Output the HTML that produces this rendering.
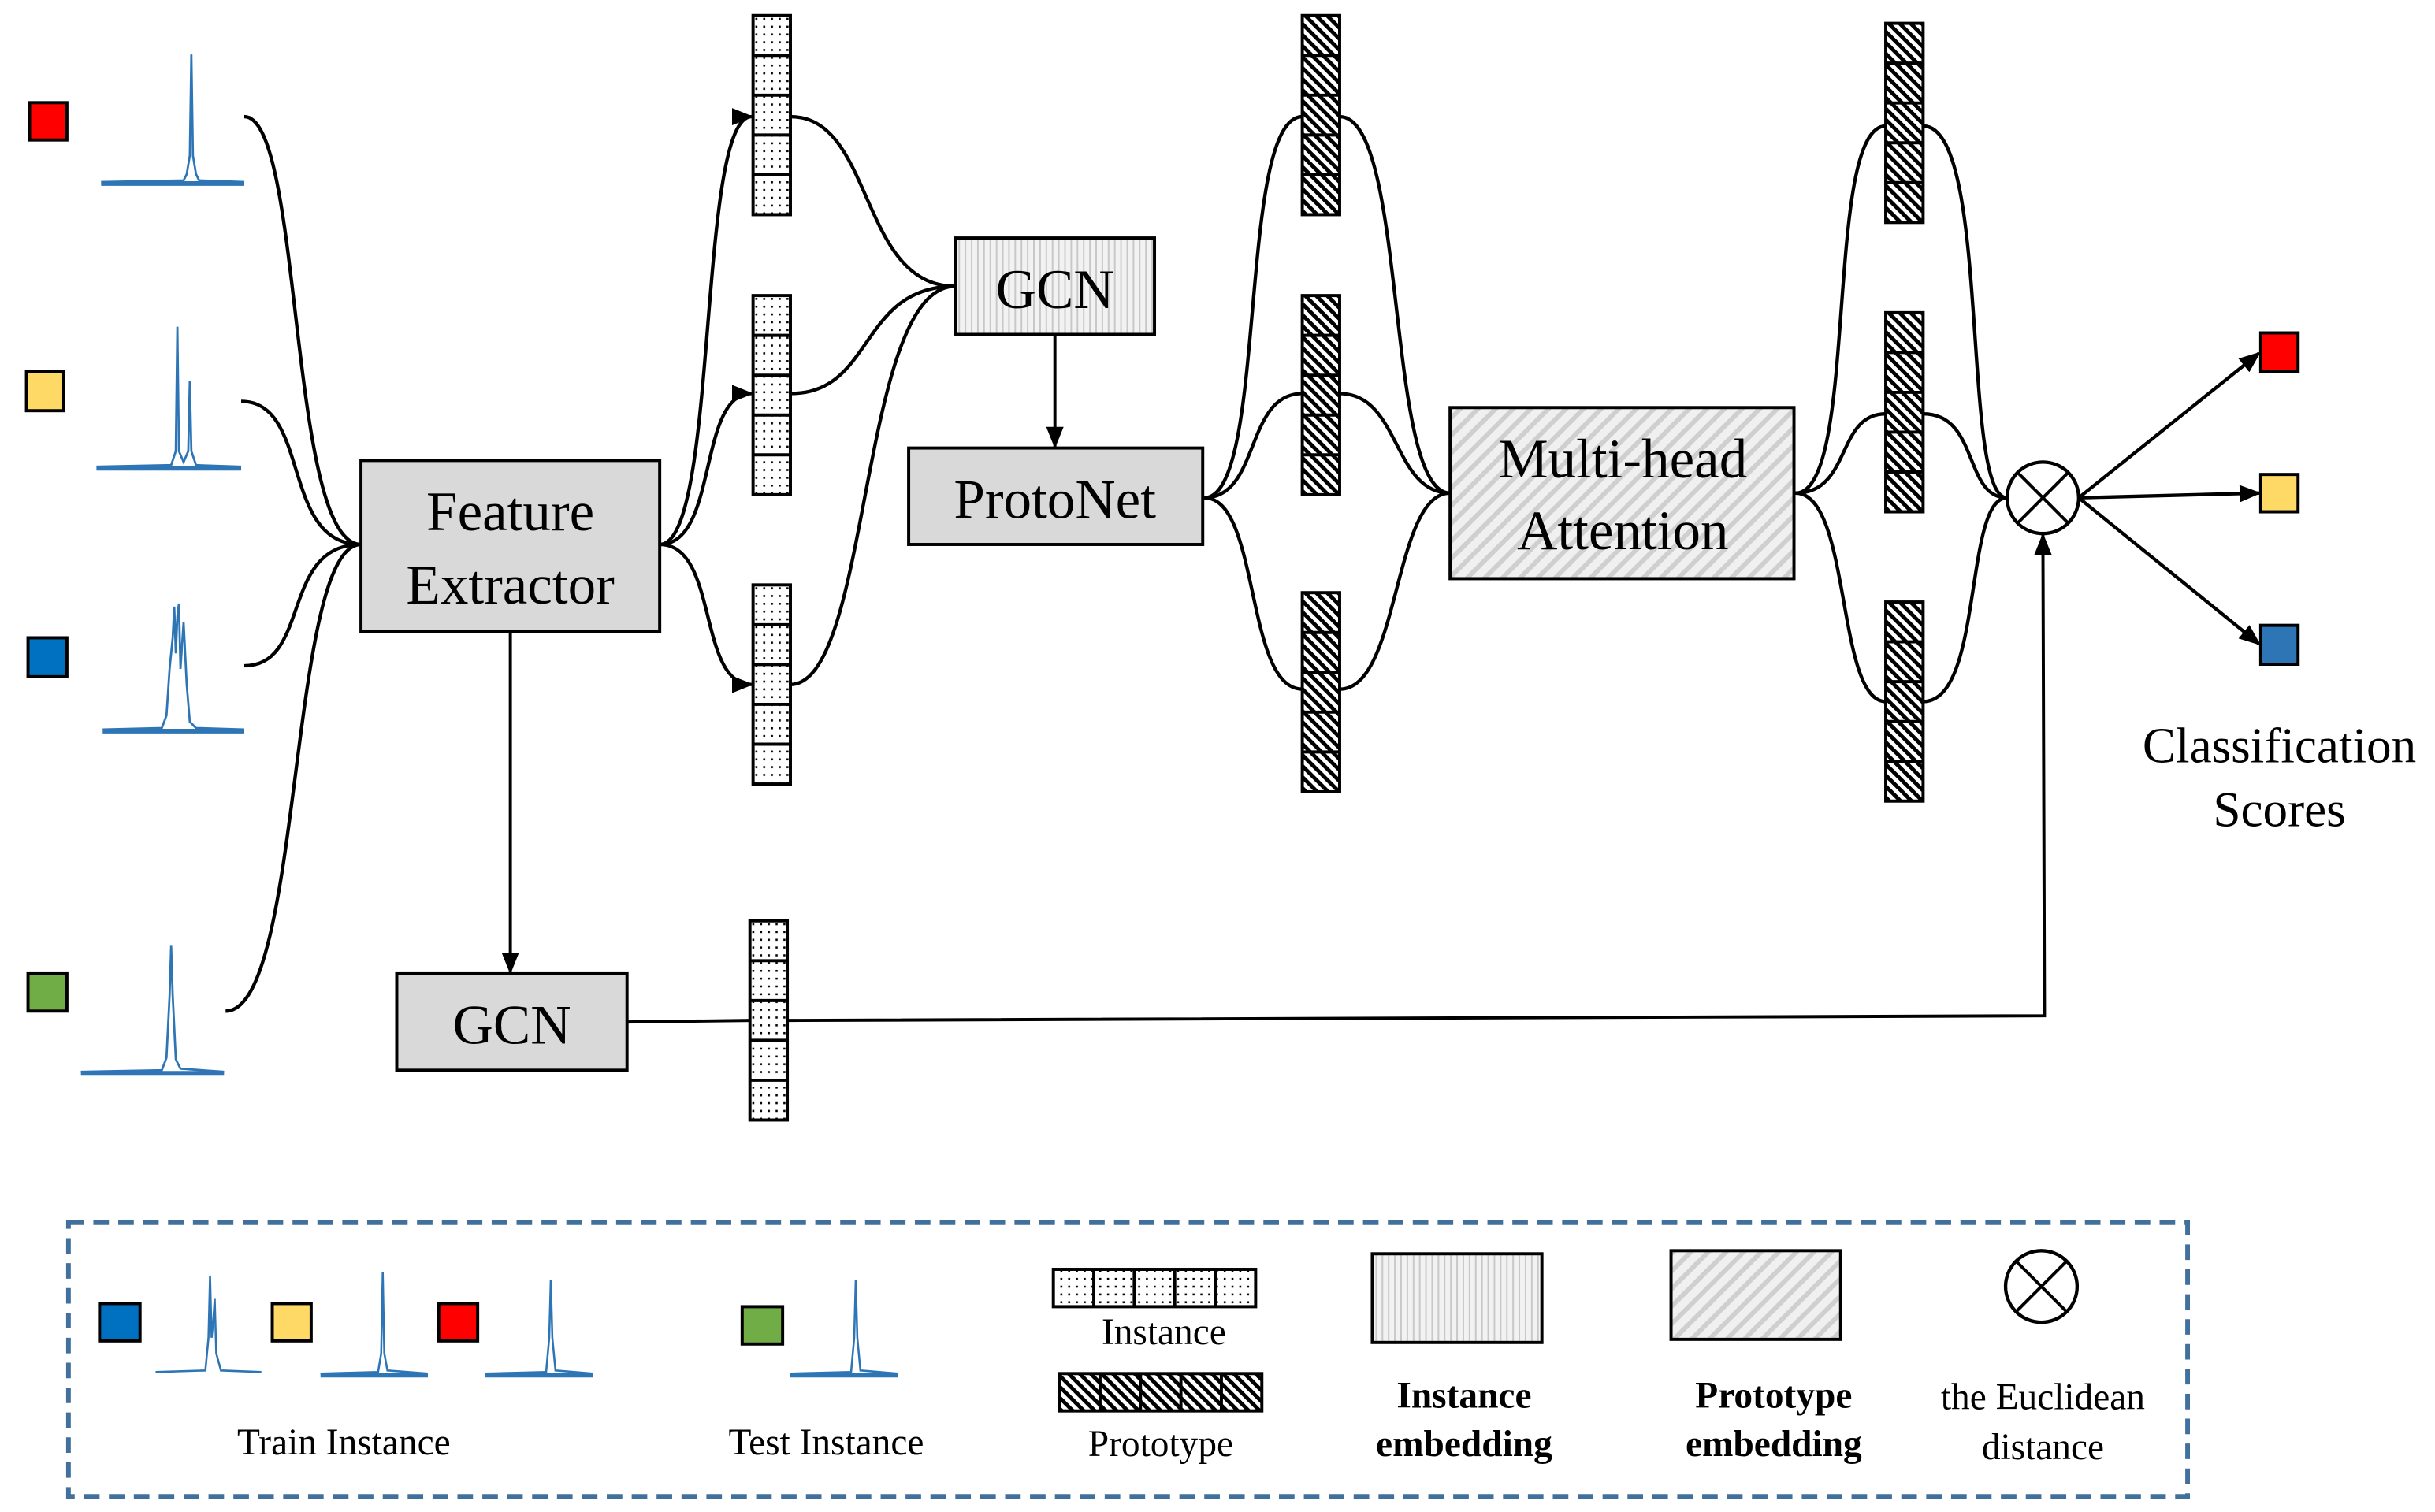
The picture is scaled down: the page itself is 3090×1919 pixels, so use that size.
<!DOCTYPE html>
<html><head><meta charset="utf-8"><style>
html,body{margin:0;padding:0;background:#fff;}
svg{display:block;}
text{font-family:"Liberation Serif","Times New Roman",Times,serif;}
</style></head><body>
<svg width="3090" height="1919" viewBox="0 0 1565 972" preserveAspectRatio="none" xmlns="http://www.w3.org/2000/svg">
<defs>
<pattern id="dots" width="5" height="5" patternUnits="userSpaceOnUse"><rect width="5" height="5" fill="#fff"/><rect x="1.5" y="1.5" width="1.3" height="1.3" fill="#000"/></pattern>
<pattern id="hatch" width="5" height="5" patternUnits="userSpaceOnUse" patternTransform="rotate(-45)"><rect width="5" height="5" fill="#fff"/><rect width="2.5" height="5" fill="#000"/></pattern>
<pattern id="vlines" width="4" height="10" patternUnits="userSpaceOnUse"><rect width="4" height="10" fill="#f2f2f2"/><rect width="1" height="10" fill="#c8c8c8"/></pattern>
<pattern id="diag" width="8" height="8" patternUnits="userSpaceOnUse" patternTransform="rotate(45)"><rect width="8" height="8" fill="#f0f0f0"/><rect width="3" height="8" fill="#cfcfcf"/></pattern>
<marker id="ar2" viewBox="0 0 10 10" refX="9" refY="5" markerWidth="14" markerHeight="14" markerUnits="userSpaceOnUse" orient="auto"><path d="M0,1 L10,5 L0,9 z" fill="#000"/></marker>
</defs>

<!-- input squares -->
<rect x="19" y="66" width="24" height="24" fill="#ff0000" stroke="#000" stroke-width="2"/>
<rect x="17" y="239" width="24" height="25" fill="#ffd966" stroke="#000" stroke-width="2"/>
<rect x="18" y="410" width="25" height="25" fill="#0070c0" stroke="#000" stroke-width="2"/>
<rect x="18" y="626" width="25" height="24" fill="#70ad47" stroke="#000" stroke-width="2"/>

<!-- spectra -->
<g stroke="#2e75b6" fill="none" stroke-width="1.4">
<path d="M65,117 L118,116 L120,112 L122,100 L123,35 L124,100 L126,112 L128,116 L157,117"/>
<path d="M62,300 L110,299 L113,290 L114,210 L115,290 L118,297 L121,290 L122,245 L123,290 L126,299 L155,300"/>
<path d="M66,469 L104,468 L107,460 L109,430 L111,410 L112,390 L113,420 L114,396 L115,388 L116,430 L118,400 L120,440 L122,464 L126,468 L157,469"/>
<path d="M52,689 L104,688 L107,680 L109,640 L110,608 L111,640 L113,681 L116,687 L144,689"/>
</g>
<g stroke="#2e75b6" stroke-width="3">
<line x1="65" y1="118" x2="157" y2="118"/>
<line x1="62" y1="301" x2="155" y2="301"/>
<line x1="66" y1="470" x2="157" y2="470"/>
<line x1="52" y1="690" x2="144" y2="690"/>
</g>

<!-- spectrum to FE curves -->
<g stroke="#000" fill="none" stroke-width="2.2">
<path d="M157,75 C195,75 185,350 232,350"/>
<path d="M155,258 C200,258 180,350 232,350"/>
<path d="M157,428 C200,428 180,350 232,350"/>
<path d="M145,650 C195,650 185,350 232,350"/>
</g>

<!-- Feature Extractor -->
<rect x="232" y="296" width="192" height="110" fill="#d9d9d9" stroke="#000" stroke-width="2"/>
<text x="328" y="341" font-size="36" text-anchor="middle">Feature</text>
<text x="328" y="388" font-size="36" text-anchor="middle">Extractor</text>

<!-- instance vectors -->
<g stroke="#000" stroke-width="2" fill="url(#dots)">
<g transform="translate(484,10)"><rect width="24" height="128"/><line x1="0" y1="25.6" x2="24" y2="25.6"/><line x1="0" y1="51.2" x2="24" y2="51.2"/><line x1="0" y1="76.8" x2="24" y2="76.8"/><line x1="0" y1="102.4" x2="24" y2="102.4"/></g>
<g transform="translate(484,190)"><rect width="24" height="128"/><line x1="0" y1="25.6" x2="24" y2="25.6"/><line x1="0" y1="51.2" x2="24" y2="51.2"/><line x1="0" y1="76.8" x2="24" y2="76.8"/><line x1="0" y1="102.4" x2="24" y2="102.4"/></g>
<g transform="translate(484,376)"><rect width="24" height="128"/><line x1="0" y1="25.6" x2="24" y2="25.6"/><line x1="0" y1="51.2" x2="24" y2="51.2"/><line x1="0" y1="76.8" x2="24" y2="76.8"/><line x1="0" y1="102.4" x2="24" y2="102.4"/></g>
<g transform="translate(482,592)"><rect width="24" height="128"/><line x1="0" y1="25.6" x2="24" y2="25.6"/><line x1="0" y1="51.2" x2="24" y2="51.2"/><line x1="0" y1="76.8" x2="24" y2="76.8"/><line x1="0" y1="102.4" x2="24" y2="102.4"/></g>
</g>

<g stroke="#000" fill="none" stroke-width="2.2">
<path d="M424,350 C462,350 448,75 483,75" marker-end="url(#ar2)"/>
<path d="M424,350 C462,350 448,253 483,253" marker-end="url(#ar2)"/>
<path d="M424,350 C462,350 448,440 483,440" marker-end="url(#ar2)"/>
<path d="M508,75 C562,75 552,184 614,184"/>
<path d="M508,253 C562,253 552,184 614,184"/>
<path d="M508,440 C560,440 552,184 614,184"/>
</g>

<!-- GCN top -->
<rect x="614" y="153" width="128" height="62" fill="url(#vlines)" stroke="#000" stroke-width="2"/>
<text x="678" y="198" font-size="36" text-anchor="middle">GCN</text>
<line x1="678" y1="215" x2="678" y2="287" stroke="#000" stroke-width="2" marker-end="url(#ar2)"/>

<!-- ProtoNet -->
<rect x="584" y="288" width="189" height="62" fill="#d9d9d9" stroke="#000" stroke-width="2"/>
<text x="678" y="333" font-size="36" text-anchor="middle">ProtoNet</text>

<!-- prototype vectors set 1 -->
<g stroke="#000" stroke-width="2" fill="url(#hatch)">
<g transform="translate(837,10)"><rect width="24" height="128"/><line x1="0" y1="25.6" x2="24" y2="25.6"/><line x1="0" y1="51.2" x2="24" y2="51.2"/><line x1="0" y1="76.8" x2="24" y2="76.8"/><line x1="0" y1="102.4" x2="24" y2="102.4"/></g>
<g transform="translate(837,190)"><rect width="24" height="128"/><line x1="0" y1="25.6" x2="24" y2="25.6"/><line x1="0" y1="51.2" x2="24" y2="51.2"/><line x1="0" y1="76.8" x2="24" y2="76.8"/><line x1="0" y1="102.4" x2="24" y2="102.4"/></g>
<g transform="translate(837,381)"><rect width="24" height="128"/><line x1="0" y1="25.6" x2="24" y2="25.6"/><line x1="0" y1="51.2" x2="24" y2="51.2"/><line x1="0" y1="76.8" x2="24" y2="76.8"/><line x1="0" y1="102.4" x2="24" y2="102.4"/></g>
</g>
<g stroke="#000" fill="none" stroke-width="2.2">
<path d="M774,320 C815,320 795,75 837,75"/>
<path d="M774,320 C810,320 800,253 837,253"/>
<path d="M774,320 C810,320 800,443 837,443"/>
<path d="M861,75 C905,75 890,317 932,317"/>
<path d="M861,253 C900,253 895,317 932,317"/>
<path d="M861,443 C900,443 895,317 932,317"/>
</g>

<!-- MHA -->
<rect x="932" y="262" width="221" height="110" fill="url(#diag)" stroke="#000" stroke-width="2"/>
<text x="1043" y="307" font-size="36" text-anchor="middle">Multi-head</text>
<text x="1043" y="353" font-size="36" text-anchor="middle">Attention</text>

<!-- prototype vectors set 2 -->
<g stroke="#000" stroke-width="2" fill="url(#hatch)">
<g transform="translate(1212,15)"><rect width="24" height="128"/><line x1="0" y1="25.6" x2="24" y2="25.6"/><line x1="0" y1="51.2" x2="24" y2="51.2"/><line x1="0" y1="76.8" x2="24" y2="76.8"/><line x1="0" y1="102.4" x2="24" y2="102.4"/></g>
<g transform="translate(1212,201)"><rect width="24" height="128"/><line x1="0" y1="25.6" x2="24" y2="25.6"/><line x1="0" y1="51.2" x2="24" y2="51.2"/><line x1="0" y1="76.8" x2="24" y2="76.8"/><line x1="0" y1="102.4" x2="24" y2="102.4"/></g>
<g transform="translate(1212,387)"><rect width="24" height="128"/><line x1="0" y1="25.6" x2="24" y2="25.6"/><line x1="0" y1="51.2" x2="24" y2="51.2"/><line x1="0" y1="76.8" x2="24" y2="76.8"/><line x1="0" y1="102.4" x2="24" y2="102.4"/></g>
</g>
<g stroke="#000" fill="none" stroke-width="2.2">
<path d="M1154,317 C1195,317 1172,81 1212,81"/>
<path d="M1154,317 C1190,317 1180,266 1212,266"/>
<path d="M1154,317 C1190,317 1180,451 1212,451"/>
<path d="M1236,81 C1280,81 1260,320 1290,320"/>
<path d="M1236,266 C1272,266 1262,320 1290,320"/>
<path d="M1236,451 C1275,451 1262,320 1290,320"/>
</g>

<!-- otimes -->
<circle cx="1313" cy="320" r="23" fill="#fff" stroke="#000" stroke-width="2.2"/>
<line x1="1297" y1="304" x2="1329" y2="336" stroke="#000" stroke-width="2"/>
<line x1="1329" y1="304" x2="1297" y2="336" stroke="#000" stroke-width="2"/>

<g stroke="#000" stroke-width="2.2" fill="none">
<line x1="1336" y1="320" x2="1452" y2="227" marker-end="url(#ar2)"/>
<line x1="1336" y1="320" x2="1452" y2="317" marker-end="url(#ar2)"/>
<line x1="1336" y1="320" x2="1452" y2="414" marker-end="url(#ar2)"/>
</g>
<rect x="1453" y="214" width="24" height="25" fill="#ff0000" stroke="#000" stroke-width="2"/>
<rect x="1453" y="305" width="24" height="24" fill="#ffd966" stroke="#000" stroke-width="2"/>
<rect x="1453" y="402" width="24" height="25" fill="#2e75b6" stroke="#000" stroke-width="2"/>
<text x="1465" y="490" font-size="32" text-anchor="middle">Classification</text>
<text x="1465" y="531" font-size="32" text-anchor="middle">Scores</text>

<!-- bottom GCN path -->
<line x1="328" y1="406" x2="328" y2="625" stroke="#000" stroke-width="2" marker-end="url(#ar2)"/>
<rect x="255" y="626" width="148" height="62" fill="#d9d9d9" stroke="#000" stroke-width="2"/>
<text x="329" y="671" font-size="36" text-anchor="middle">GCN</text>
<line x1="403" y1="657" x2="482" y2="656" stroke="#000" stroke-width="2"/>
<polyline points="506,656 1314,653 1313,344" fill="none" stroke="#000" stroke-width="2" marker-end="url(#ar2)"/>

<!-- legend -->
<rect x="44" y="786" width="1362" height="176" fill="none" stroke="#41709c" stroke-width="3" stroke-dasharray="10,6"/>
<rect x="64" y="838" width="26" height="24" fill="#0070c0" stroke="#000" stroke-width="2"/>
<rect x="175" y="838" width="25" height="24" fill="#ffd966" stroke="#000" stroke-width="2"/>
<rect x="282" y="838" width="25" height="24" fill="#ff0000" stroke="#000" stroke-width="2"/>
<rect x="477" y="840" width="26" height="24" fill="#70ad47" stroke="#000" stroke-width="2"/>
<g stroke="#2e75b6" fill="none" stroke-width="1.3">
<path d="M100,882 L132,881 L134,860 L135,820 L136,860 L137,850 L138,835 L139,870 L142,881 L168,882"/>
<path d="M206,883 L243,882 L245,870 L246,818 L247,870 L249,881 L275,883"/>
<path d="M312,883 L351,882 L353,860 L354,823 L355,860 L357,881 L381,883"/>
<path d="M508,883 L547,882 L549,860 L550,823 L551,860 L553,881 L577,883"/>
</g>
<g stroke="#2e75b6" stroke-width="3">
<line x1="206" y1="884" x2="275" y2="884"/>
<line x1="312" y1="884" x2="381" y2="884"/>
<line x1="508" y1="884" x2="577" y2="884"/>
</g>
<text x="221" y="935" font-size="24" text-anchor="middle">Train Instance</text>
<text x="531" y="935" font-size="24" text-anchor="middle">Test Instance</text>

<g stroke="#000" stroke-width="2">
<rect x="677" y="816" width="130" height="24" fill="url(#dots)"/>
<line x1="703" y1="816" x2="703" y2="840"/><line x1="729" y1="816" x2="729" y2="840"/><line x1="755" y1="816" x2="755" y2="840"/><line x1="781" y1="816" x2="781" y2="840"/>
<rect x="681" y="883" width="130" height="24" fill="url(#hatch)"/>
<line x1="707" y1="883" x2="707" y2="907"/><line x1="733" y1="883" x2="733" y2="907"/><line x1="759" y1="883" x2="759" y2="907"/><line x1="785" y1="883" x2="785" y2="907"/>
</g>
<text x="748" y="864" font-size="24" text-anchor="middle">Instance</text>
<text x="746" y="936" font-size="24" text-anchor="middle">Prototype</text>

<rect x="882" y="806" width="109" height="57" fill="url(#vlines)" stroke="#000" stroke-width="2"/>
<text x="941" y="905" font-size="24" font-weight="bold" text-anchor="middle">Instance</text>
<text x="941" y="936" font-size="24" font-weight="bold" text-anchor="middle">embedding</text>

<rect x="1074" y="804" width="109" height="57" fill="url(#diag)" stroke="#000" stroke-width="2"/>
<text x="1140" y="905" font-size="24" font-weight="bold" text-anchor="middle">Prototype</text>
<text x="1140" y="936" font-size="24" font-weight="bold" text-anchor="middle">embedding</text>

<circle cx="1312" cy="827" r="23" fill="#fff" stroke="#000" stroke-width="2.2"/>
<line x1="1296" y1="811" x2="1328" y2="843" stroke="#000" stroke-width="2"/>
<line x1="1328" y1="811" x2="1296" y2="843" stroke="#000" stroke-width="2"/>
<text x="1313" y="906" font-size="24" text-anchor="middle">the Euclidean</text>
<text x="1313" y="938" font-size="24" text-anchor="middle">distance</text>
</svg>
</body></html>
